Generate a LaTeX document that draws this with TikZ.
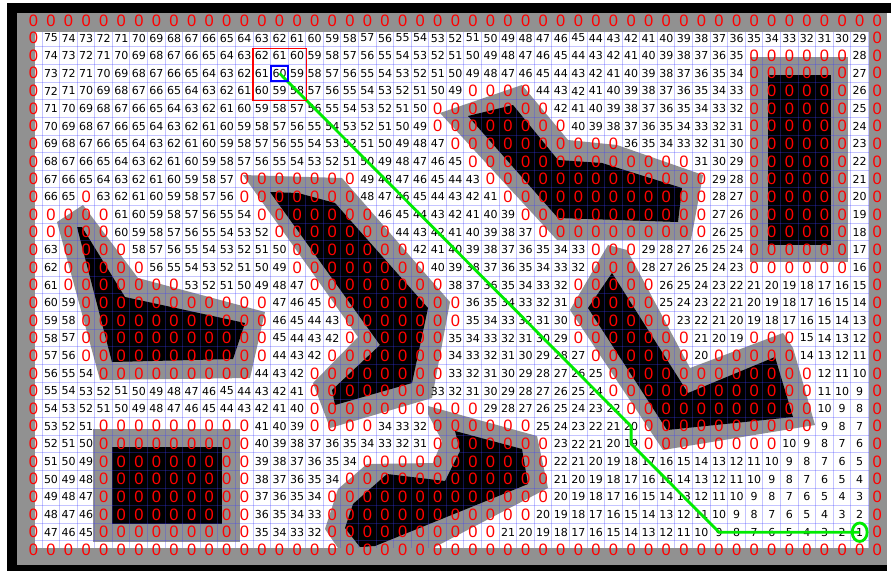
\documentclass[tikz,border=0pt]{standalone}
\usepackage{fontspec}
\usetikzlibrary{shapes.geometric}
\newfontfamily\numfont{DejaVu Sans}
\newfontfamily\zerofont{Liberation Sans}
\definecolor{wallgray}{RGB}{145,145,145}
\definecolor{routegreen}{RGB}{0,235,0}
\definecolor{cellblue}{RGB}{60,60,255}
\newif\ifwallcell
\tikzset{
  numcell/.style={inner sep=0pt, font=\numfont\fontsize{11}{12}\selectfont},
  zerocell/.style={inner sep=0pt, red, font=\zerofont\fontsize{16.5}{18}\selectfont},
  gridline/.style={cellblue, opacity=0.3, line width=0.9pt},
  route/.style={routegreen, line width=2.8pt},
}

\begin{document}
\begin{tikzpicture}[x=1pt, y=-1pt]
  \useasboundingbox (0,0) rectangle (891,571);
  %% Frame and free area
  \fill[black] (7,3) rectangle (891,571);
  \fill[white] (887,13) rectangle (891,571);
  \fill[wallgray] (17,13) rectangle (887,565);
  \fill[white] (35,32) rectangle (869,548);
  %% Inflated obstacles
  \fill[wallgray] (57,222) -- (83,205) -- (138,278) -- (265,312) -- (250,378) -- (100,380) -- cycle;
  \fill[wallgray] (243,175) -- (342,178) -- (450,302) -- (432,398) -- (330,428) -- (313,383) -- (358,337) -- cycle;
  \fill[wallgray] (440,113) -- (522,85) -- (568,140) -- (617,145) -- (703,175) -- (691,240) -- (557,240) -- cycle;
  \fill[wallgray] (750,57) rectangle (848,262);
  \fill[wallgray] (93,429) rectangle (240,542);
  \fill[wallgray] (570,310) -- (608,245) -- (627,250) -- (690,368) -- (783,333) -- (793,348) -- (815,425) -- (663,450) -- cycle;
  \fill[wallgray] (428,406) -- (537,436) -- (548,488) -- (433,548) -- (338,548) -- (325,529) -- (338,489) -- (367,464) -- (433,463) -- (442,441) -- (428,414) -- cycle;
  %% Obstacles
  \fill[black] (77,227) -- (82,227) -- (125,297) -- (245,323) -- (233,359) -- (112,362) -- cycle;
  \fill[black] (270,192) -- (298,193) -- (335,203) -- (428,308) -- (412,383) -- (335,405) -- (332,390) -- (380,345) -- cycle;
  \fill[black] (468,116) -- (513,105) -- (558,160) -- (602,163) -- (682,188) -- (678,222) -- (558,218) -- cycle;
  \fill[black] (768,75) rectangle (831,245);
  \fill[black] (112,447) rectangle (222,524);
  \fill[black] (612,273) -- (588,308) -- (667,430) -- (793,417) -- (775,357) -- (688,393) -- cycle;
  \fill[black] (455,431) -- (522,449) -- (528,484) -- (375,546) -- (360,547) -- (345,528) -- (353,504) -- (387,474) -- (445,481) -- (460,451) -- cycle;
  %% Grid lines
  \begin{scope}
    \clip (35,32) rectangle (869,548);
    \foreach \k in {0,...,47}
      \draw[gridline] ({42+17.58*\k},32) -- ({42+17.58*\k},548);
    \foreach \k in {0,...,28}
      \draw[gridline] (35,{46.7+17.65*\k}) -- (869,{46.7+17.65*\k});
  \end{scope}
  %% Cell values, row / blocked column spans
  \foreach \r/\spans in {-1/{-1/47}, 0/{-1/-1}, 1/{40/45}, 2/{40/45}, 3/{24/27,40/45}, 4/{22/28,40/45},
      5/{22/29,40/45}, 6/{23/32,40/45}, 7/{24/36,40/45}, 8/{11/17,25/37,40/45}, 9/{2/2,11/17,26/37,40/45},
      10/{0/3,12/18,27/37,40/45}, 11/{0/3,13/19,28/37,40/45}, 12/{1/4,14/20,31/33,40/45},
      13/{1/5,14/21,31/33,40/45}, 14/{1/7,15/22,30/34}, 15/{2/12,16/23,30/34}, 16/{2/12,17/23,30/35},
      17/{2/12,17/22,30/36,40/42}, 18/{2/12,16/22,31/36,38/42}, 19/{3/11,15/22,32/43}, 20/{15/21,32/43},
      21/{15/24,33/43}, 22/{3/11,15/18,22/27,34/43}, 23/{3/11,22/28,34/41}, 24/{3/11,18/28},
      25/{3/11,17/28}, 26/{3/11,16/28}, 27/{3/11,16/27}, 28/{3/11,16/25}, 29/{-1/47}} {
    \foreach \c in {-1,...,47} {
      \global\wallcellfalse
      \ifnum\c<0 \global\wallcelltrue\fi
      \ifnum\c>46 \global\wallcelltrue\fi
      \foreach \a/\b in \spans {
        \ifnum\c<\a\else\ifnum\c>\b\else\global\wallcelltrue\fi\fi
      }
      \pgfmathtruncatemacro\val{75-\c-\r}
      \ifwallcell
        \node[zerocell] (v\r-\c) at ({51+17.58*\c},{38+17.65*\r}) {0};
      \else
        \node[numcell] (v\r-\c) at ({51+17.58*\c},{38+17.65*\r}) {\val};
      \fi
    }
  }
  %% Route from start to goal
  \draw[route] (v2-13.center) -- (v22-33.center) -- (v23-33.center) -- (v28-38.center) -- (v28-46.center);
  %% Markers
  \node[draw=red, line width=1.5pt, minimum width=53.5pt, minimum height=52pt, inner sep=0pt, yshift=-1pt] (window) at (v2-13) {};
  \node[draw=blue, line width=1.8pt, minimum width=16.5pt, minimum height=15pt, inner sep=0pt] (startcell) at (v2-13) {};
  \node[ellipse, draw=routegreen, line width=2.8pt, minimum width=15pt, minimum height=18.5pt, inner sep=0pt] (goalring) at (v28-46) {};
\end{tikzpicture}
\end{document}
